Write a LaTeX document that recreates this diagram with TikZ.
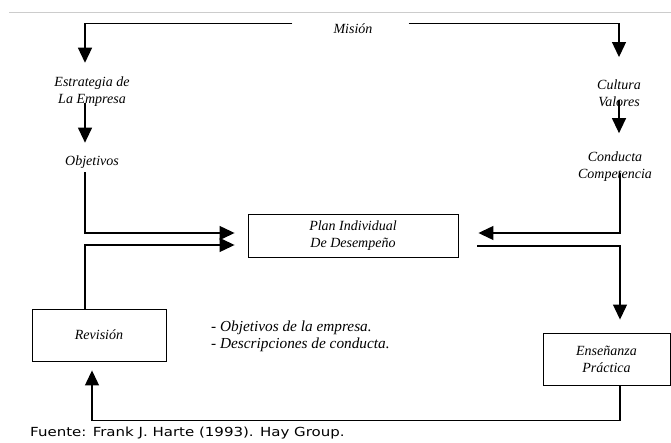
\documentclass[tikz,border=0pt]{standalone}
\usepackage{fontspec}
\setmainfont{Liberation Serif}
\newfontfamily\fuentefont[FakeStretch=1.2]{DejaVu Sans}
\usetikzlibrary{arrows.meta}
\tikzset{
  lbl/.style    = {font=\itshape\fontsize{14}{17}\selectfont,
                   align=center, inner sep=0pt},
  nota/.style   = {lbl, font=\itshape\fontsize{15.3}{17.5}\selectfont, align=left},
  caja/.style   = {lbl, shape=rectangle, draw, line width=0.9pt},
  flecha/.style = {draw, line width=1.2pt, -{Triangle[length=15pt,width=14pt]}},
  fuente/.style = {font=\fuentefont\fontsize{12.5}{15}\selectfont, inner sep=0pt}
}

\begin{document}
\begin{tikzpicture}
 [x=1pt, y=-1pt]
  \useasboundingbox (0,0) rectangle (671,443);
  \draw[black!20, line width=0.8pt] (9,12.5) -- (671,12.5);

  \node[lbl] (mision)     at (353,28.3)  {Misión};
  \node[lbl] (estrategia) at (92,91.2)   {Estrategia de\\La Empresa};
  \node[lbl] (objetivos)  at (92,162.6)  {Objetivos};
  \node[lbl] (cultura)    at (619,93.7)  {Cultura\\Valores};
  \node[lbl] (conducta)   at (615,166.2) {Conducta\\Competencia};
  \node[caja, minimum width=210, minimum height=43] (plan) at (353,235.5)
       {Plan Individual\\De Desempeño};
  \node[caja, minimum width=134, minimum height=52] (revision) at (99,335)
       {Revisión};
  \node[caja, minimum width=127, minimum height=52] (ensenanza) at (606.5,359)
       {Enseñanza\\Práctica};
  \node[nota, anchor=west] (notas) at (211,336.5)
       {- Objetivos de la empresa.\\- Descripciones de conducta.};
  \node[fuente, anchor=west] (fuente) at (30,433)
       {Fuente: Frank J. Harte (1993). Hay Group.};

  % mision arriba
  \draw[flecha] ([xshift=-41pt,yshift=5pt]mision.west)
     -| ([xshift=-7pt,yshift=13.4pt]estrategia.north);
  \draw[flecha] ([xshift=36pt,yshift=5pt]mision.east)
     -| ([yshift=23pt]cultura.north);
  \draw[flecha] ([xshift=-7pt,yshift=3pt]estrategia.south)
     -- ([xshift=-7pt,yshift=13.4pt]objetivos.north);
  \draw[flecha] ([yshift=7pt]cultura.south)
     -- ([xshift=4pt,yshift=18pt]conducta.north);

  % hacia el plan
  \draw[flecha] ([xshift=-7pt,yshift=-3pt]objetivos.south)
     |- ([xshift=-13pt,yshift=2.5pt]plan.west);
  \draw[flecha] ([xshift=-14pt]revision.north)
     |- ([xshift=-13pt,yshift=-9.5pt]plan.west);
  \draw[flecha] ([xshift=5pt,yshift=8pt]conducta.south)
     |- ([xshift=20pt,yshift=2.5pt]plan.east);

  % ciclo
  \draw[flecha] ([xshift=19pt,yshift=-10.5pt]plan.east)
     -| ([xshift=13.5pt,yshift=13pt]ensenanza.north);
  \draw[flecha] ([xshift=13.5pt]ensenanza.south) -- ++(0,35)
     -| ([xshift=-7pt,yshift=-9pt]revision.south);
\end{tikzpicture}
\end{document}
